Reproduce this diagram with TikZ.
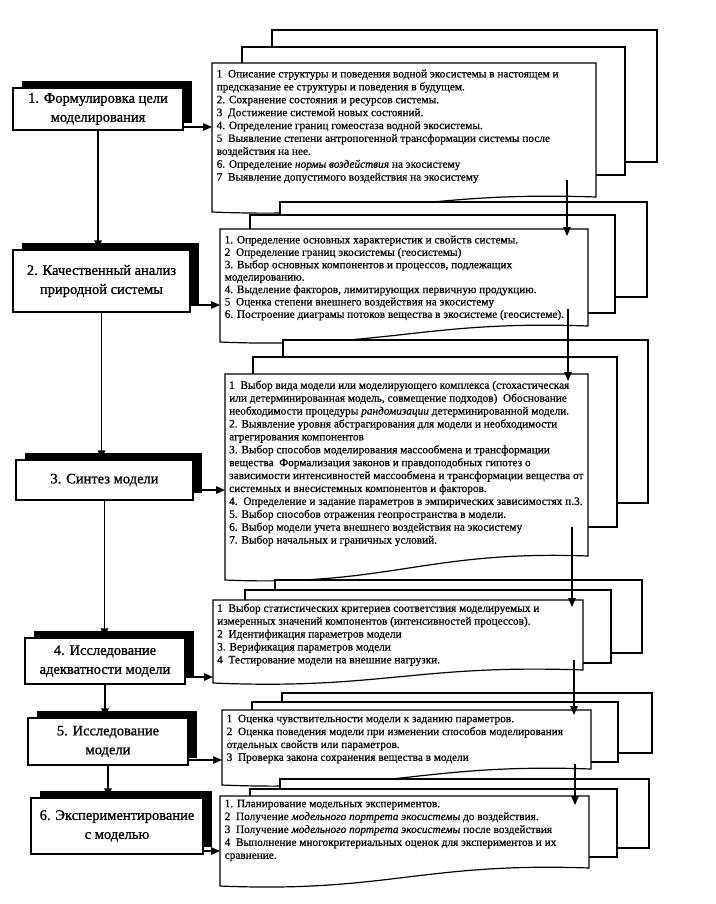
\documentclass[tikz,border=0pt]{standalone}
\usepackage{fontspec}
\setmainfont{Liberation Serif}
\newfontfamily\docserif{Liberation Serif}[FakeBold=0.6]
\newfontfamily\stageserif{Liberation Serif}[FakeBold=1.0]
\usetikzlibrary{shadows,arrows.meta}
\newcommand\docfront[5]{%
  \filldraw[docline] (#1,#2) -- (#3,#2) -- (#3,#4) .. controls ({#1+0.55*(#3-#1)},{#4-6}) and ({#1+0.45*(#3-#1)},{#5+7}) .. (#1,#5) -- cycle;}
\newcommand\docback[4]{\filldraw[docline] (#1,#2) rectangle (#3,#4);}
\tikzset{
  stage/.style={draw, fill=white, line width=1.3pt, align=center, inner sep=2pt,
    font=\stageserif\fontsize{14.5}{19}\selectfont,
    drop shadow={shadow xshift=9pt, shadow yshift=7pt, opacity=1, fill=black}},
  docline/.style={draw=black, fill=white, line width=1.2pt},
  doctext/.style={anchor=north west, inner sep=0pt, align=left, font=\docserif\fontsize{11.3}{12.9}\selectfont},
  flow/.style={line width=1.3pt, -{Triangle[length=9pt,width=7.5pt]}},
}
\begin{document}
\begin{tikzpicture}[x=1pt,y=-1pt]
\useasboundingbox (0,0) rectangle (715,904);
\fill[white] (0,0) rectangle (715,904);

% ---------- group 1
\docback{272}{30}{657}{162}
\docback{242}{47}{625}{175}
\docfront{212}{63}{596}{197}{212}
\node[doctext] (t1) at (216.5,69.5) {1\ \ Описание структуры и поведения водной экосистемы в настоящем и\\
предсказание ее структуры и поведения в будущем.\\
2. Сохранение состояния и ресурсов системы.\\
3\ \ Достижение системой новых состояний.\\
4. Определение границ гомеостаза водной экосистемы.\\
5\ \ Выявление степени антропогенной трансформации системы после\\
воздействия на нее.\\
6. Определение \textit{нормы воздействия} на экосистему\\
7\ \ Выявление допустимого воздействия на экосистему};

% ---------- group 2
\docback{280}{202}{647}{297}
\docback{250}{215}{615}{313}
\docfront{220}{229}{588}{326}{342}
\node[doctext, font=\docserif\fontsize{11.3}{12.4}\selectfont] (t2) at (224.5,235.5) {1. Определение основных характеристик и свойств системы.\\
2\ \ Определение границ экосистемы (геосистемы)\\
3. Выбор основных компонентов и процессов, подлежащих\\
моделированию.\\
4. Выделение факторов, лимитирующих первичную продукцию.\\
5\ \ Оценка степени внешнего воздействия на экосистему\\
6. Построение диаграмы потоков вещества в экосистеме (геосистеме).};

% ---------- group 3
\docback{283}{340}{648}{503}
\docback{253}{357}{617}{527}
\docfront{225}{374}{588}{556}{580}
\node[doctext] (t3) at (229,380.5) {1\ \ Выбор вида модели или моделирующего комплекса (стохастическая\\
или детерминированная модель, совмещение подходов)\ \ Обоснование\\
необходимости процедуры \textit{рандомизации} детерминированной модели.\\
2. Выявление уровня абстрагирования для модели и необходимости\\
агрегирования компонентов\\
3. Выбор способов моделирования массообмена и трансформации\\
вещества\ \ Формализация законов и правдоподобных гипотез о\\
зависимости интенсивностей массообмена и трансформации вещества от\\
системных и внесистемных компонентов и факторов.\\
4.\ \ Определение и задание параметров в эмпирических зависимостях п.3.\\
5. Выбор способов отражения геопространства в модели.\\
6. Выбор модели учета внешнего воздействия на экосистему\\
7. Выбор начальных и граничных условий.};

% ---------- group 4
\docback{275}{580}{642}{653}
\docback{245}{590}{611}{663}
\docfront{213}{600}{583}{670}{683}
\node[doctext] (t4) at (217,603.5) {1\ \ Выбор статистических критериев соответствия моделируемых и\\
измеренных значений компонентов (интенсивностей процессов).\\
2\ \ Идентификация параметров модели\\
3. Верификация параметров модели\\
4\ \ Тестирование модели на внешние нагрузки.};

% ---------- group 5
\docback{282}{693}{652}{753}
\docback{252}{702}{618}{762}
\docfront{222}{710}{591}{769}{785}
\node[doctext] (t5) at (226.5,714.5) {1\ \ Оценка чувствительности модели к заданию параметров.\\
2\ \ Оценка поведения модели при изменении способов моделирования\\
отдельных свойств или параметров.\\
3\ \ Проверка закона сохранения вещества в модели};

% ---------- group 6
\docback{280}{779}{649}{848}
\docback{250}{789}{617}{857}
\docfront{220}{796}{589}{868}{886}
\node[doctext] (t6) at (224.5,799.5) {1. Планирование модельных экспериментов.\\
2\ \ Получение \textit{модельного портрета экосистемы} до воздействия.\\
3\ \ Получение \textit{модельного портрета экосистемы} после воздействия\\
4\ \ Выполнение многокритериальных оценок для экспериментов и их\\
сравнение.};

% ---------- stages
\node[stage, minimum width=170pt, minimum height=42pt] (b1) at (98,109) {1. Формулировка цели\\моделирования};
\node[stage, minimum width=177pt, minimum height=62pt] (b2) at (101.5,281) {2. Качественный анализ\\природной системы};
\node[stage, minimum width=177pt, minimum height=40pt] (b3) at (104.5,480) {3. Синтез модели};
\node[stage, minimum width=160pt, minimum height=46pt] (b4) at (105,661) {4. Исследование\\адекватности модели};
\node[stage, minimum width=160pt, minimum height=47pt] (b5) at (108,741.5) {5. Исследование\\модели};
\node[stage, minimum width=172pt, minimum height=56pt] (b6) at (117,826) {6. Экспериментирование\\с моделью};

% ---------- coordinates for connectors
\coordinate (a1) at (212,127);
\coordinate (a2) at (220,305);
\coordinate (a3) at (225,490);
\coordinate (a4) at (213,677);
\coordinate (a5) at (222,760);
\coordinate (a6) at (220,851);
\coordinate (s1) at (567,180); \coordinate (e1) at (567,236);
\coordinate (s2) at (568,309); \coordinate (e2) at (568,381);
\coordinate (s3) at (572,527); \coordinate (e3) at (572,607);
\coordinate (s4) at (574,660); \coordinate (e4) at (574,715);
\coordinate (s5) at (575,764); \coordinate (e5) at (575,805);

% stage to stage
\draw[flow] (b1.south) -- (b1.south |- b2.north);
\draw[flow] (b2.south) -- (b2.south |- b3.north);
\draw[flow] (b3.south) -- (b3.south |- b4.north);
\draw[flow] (b4.south) -- (b4.south |- b5.north);
\draw[flow] (b5.south) -- (b5.south |- b6.north);

% stage to documents
\draw[flow] (b1.east |- a1) -- (a1);
\draw[flow] (b2.east |- a2) -- (a2);
\draw[flow] (b3.east |- a3) -- (a3);
\draw[flow] (b4.east |- a4) -- (a4);
\draw[flow] (b5.east |- a5) -- (a5);
\draw[flow] (b6.east |- a6) -- (a6);

% document to document
\draw[flow] (s1) -- (e1);
\draw[flow] (s2) -- (e2);
\draw[flow] (s3) -- (e3);
\draw[flow] (s4) -- (e4);
\draw[flow] (s5) -- (e5);
\end{tikzpicture}
\end{document}
